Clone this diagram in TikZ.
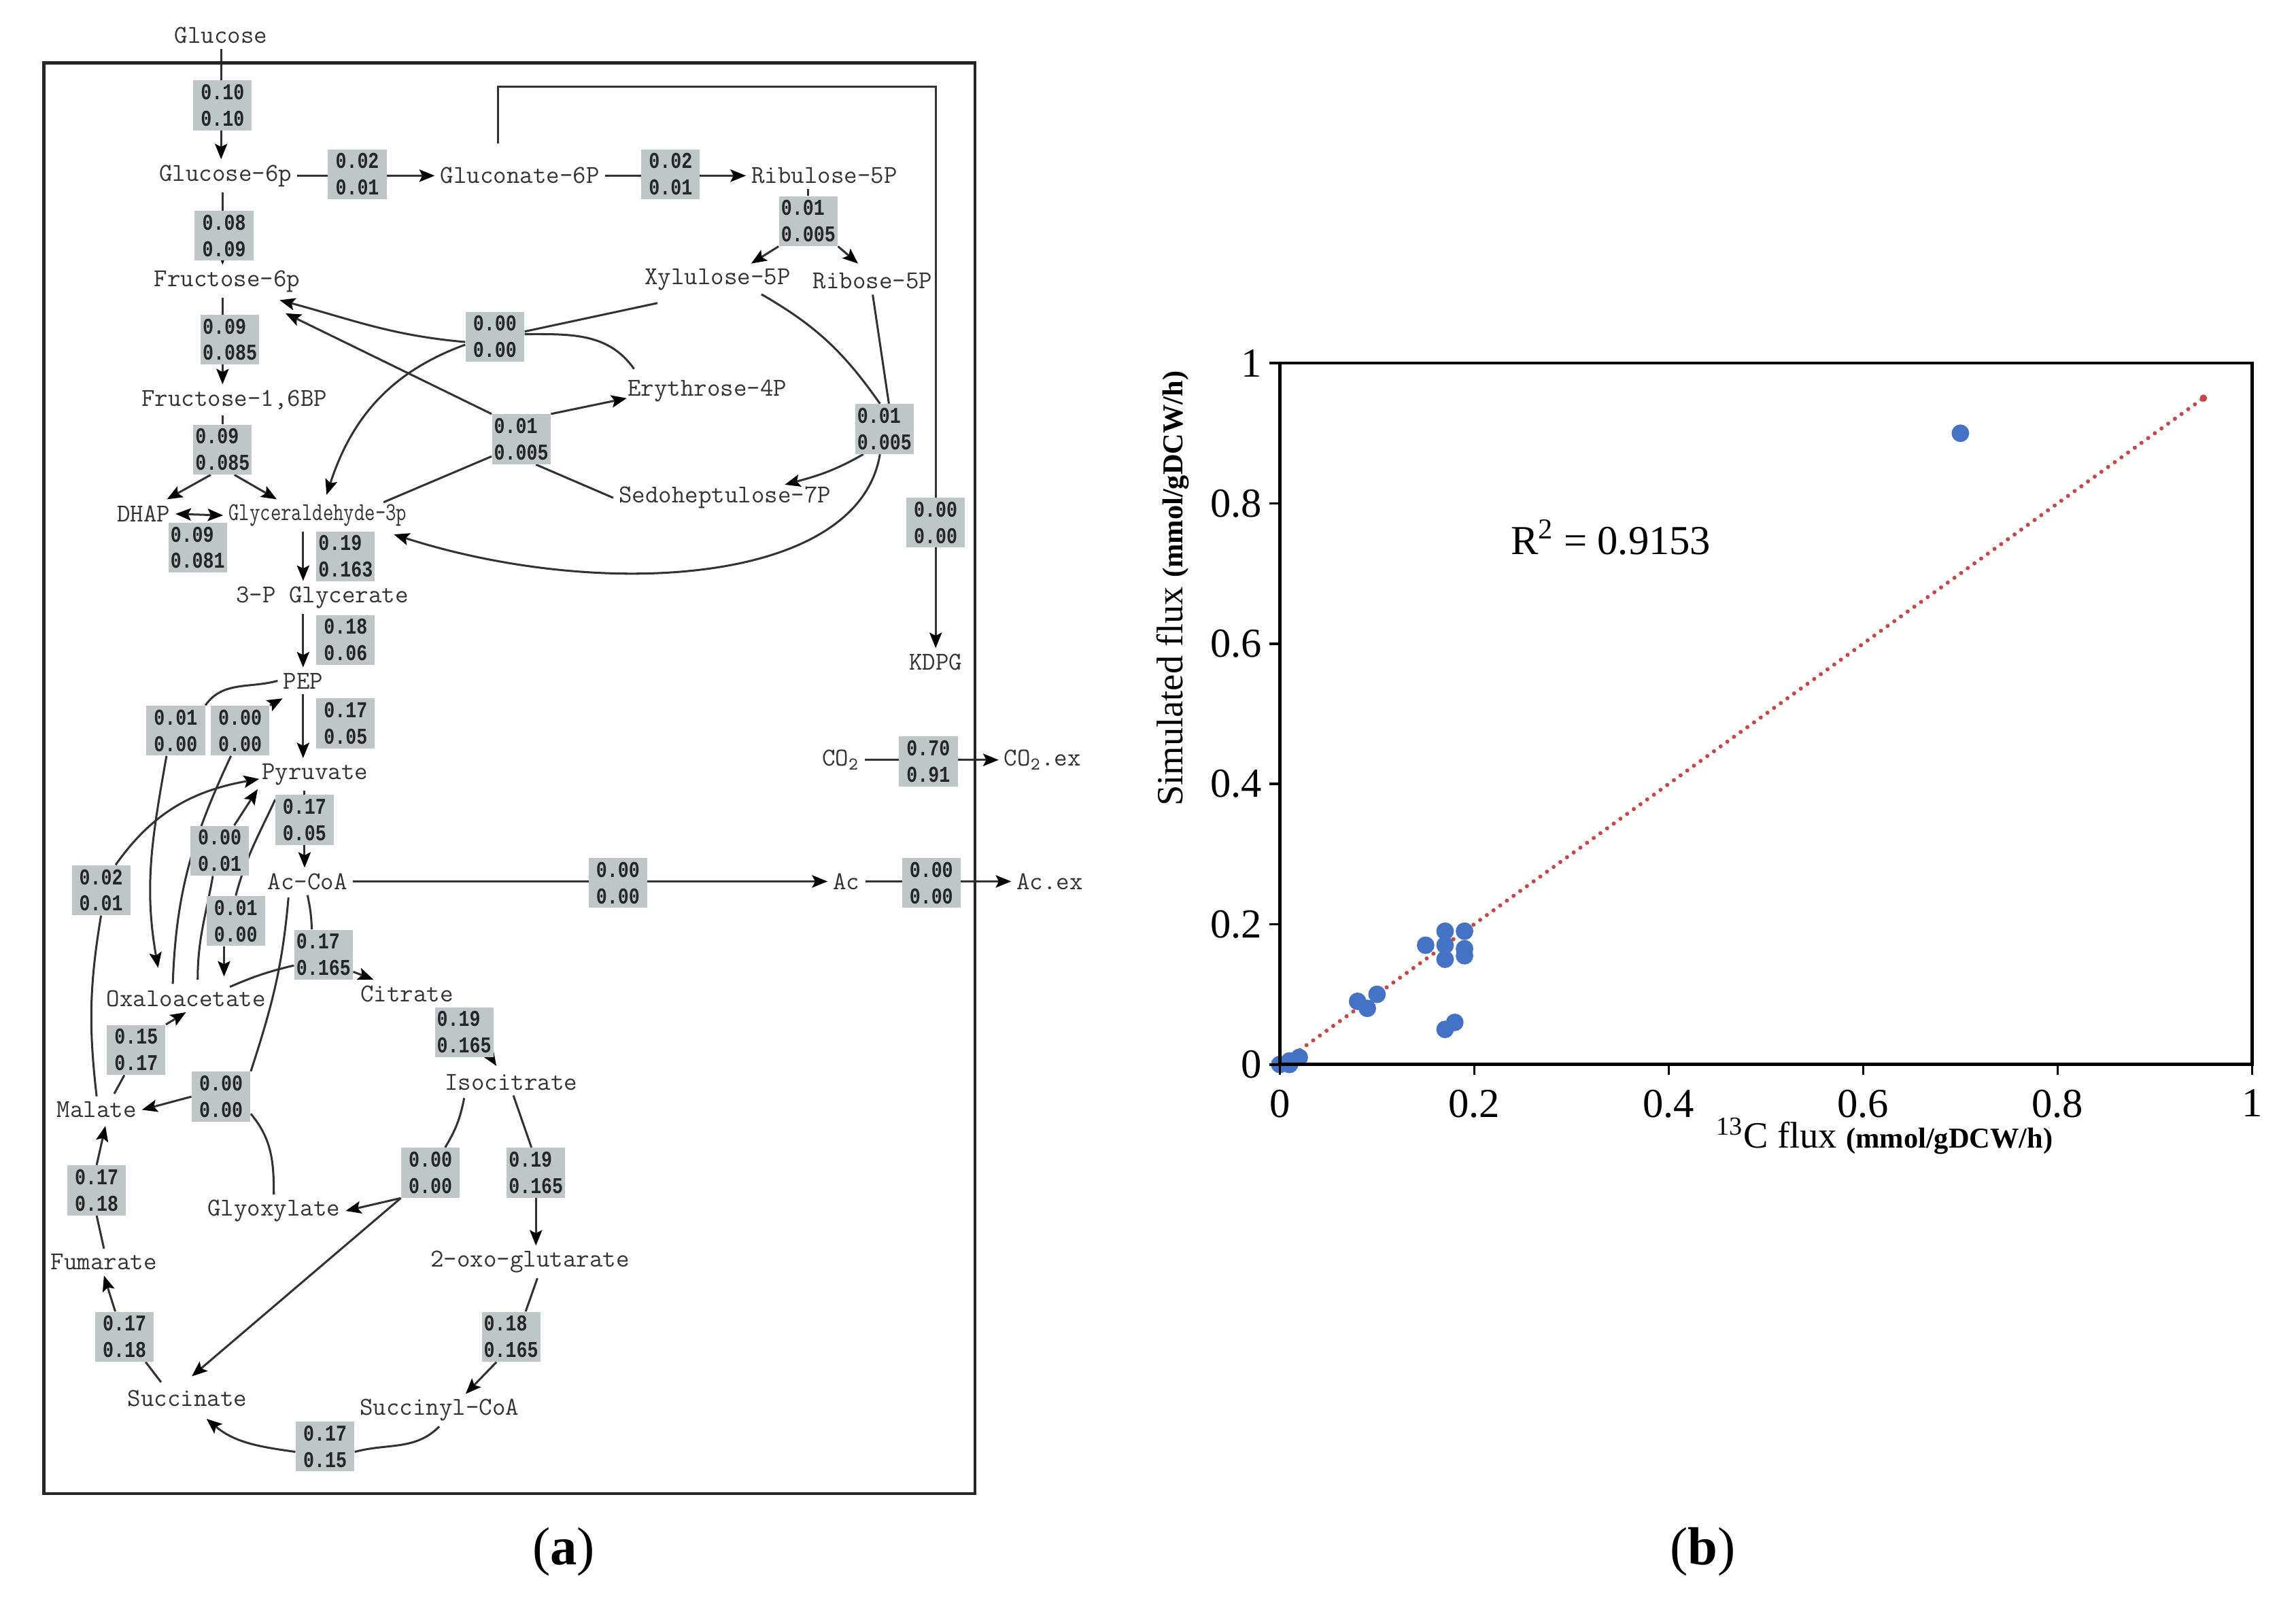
\documentclass[tikz,border=0pt]{standalone}
\usepackage{fontspec}
\usepackage{graphicx}
\setmainfont{Liberation Serif}
\newfontfamily\ratefont[FakeStretch=0.8]{Liberation Mono}
\usetikzlibrary{arrows.meta}

\pgfdeclarelayer{back}
\pgfsetlayers{back,main}

\definecolor{boxgray}{RGB}{190,198,200}
\definecolor{linegray}{RGB}{50,50,50}
\definecolor{dotblue}{RGB}{68,114,196}
\definecolor{fitred}{RGB}{200,70,70}

\begin{document}
\begin{tikzpicture}[x=0.025cm, y=0.025cm]
	\tikzset{
		met/.style={
			font=\ttfamily\fontsize{12.5}{15}\selectfont,
			text=black!80,
			inner sep=2.5pt
		},
		rate/.style={
			fill=boxgray,
			font=\ratefont\bfseries\fontsize{11}{12.8}\selectfont,
			text=black!85,
			align=left,
			minimum width=1cm,
			minimum height=0.85cm,
			inner sep=1pt
		},
		flow/.style={
			draw=linegray,
			line width=1pt,
			>={Stealth[length=7.5pt,width=6pt,inset=1.5pt,color=black]},
			every edge/.append style={->}
		},
		chart/.style={font=\fontsize{20}{24}\selectfont},
	}
	\useasboundingbox (0,0) rectangle (1568,1092);

	% (a) flux map
	\draw[line width=1.4pt, draw=black!85] (30,72) rectangle (666,1049);

	\node[met] (glc) at (151,1068) {Glucose};
	\node[met] (g6p) at (154,972) {Glucose-6p};
	\node[met] (gn6p) at (355,972) {Gluconate-6P};
	\node[met] (ru5p) at (563,972) {Ribulose-5P};
	\node[met] (xu5p) at (490,901) {Xylulose-5P};
	\node[met] (r5p) at (596,900) {Ribose-5P};
	\node[met] (f6p) at (155,900) {Fructose-6p};
	\node[met] (fbp) at (160,819) {Fructose-1,6BP};
	\node[met] (e4p) at (483,825) {Erythrose-4P};
	\node[met] (s7p) at (495,752) {Sedoheptulose-7P};
	\node[met] (dhap) at (98,741) {DHAP};
	\node[met] (g3p) at (217,740) {\scalebox{0.79}[1]{Glyceraldehyde-3p}};
	\node[met] (pg3) at (220,684) {3-P Glycerate};
	\node[met] (pep) at (207,627) {PEP};
	\node[met] (pyr) at (215,563) {Pyruvate};
	\node[met] (accoa) at (210,490) {Ac-CoA};
	\node[met] (ac) at (578,490) {Ac};
	\node[met] (acex) at (717,490) {Ac.ex};
	\node[met] (co2) at (574,573) {CO\textsubscript{2}};
	\node[met] (co2ex) at (712,573) {CO\textsubscript{2}.ex};
	\node[met] (kdpg) at (639,640) {KDPG};
	\node[met] (oaa) at (127,410) {Oxaloacetate};
	\node[met] (cit) at (278,413) {Citrate};
	\node[met] (icit) at (349,353) {Isocitrate};
	\node[met] (mal) at (66,334) {Malate};
	\node[met] (glx) at (187,265) {Glyoxylate};
	\node[met] (fum) at (71,230) {Fumarate};
	\node[met] (akg) at (362,230) {2-oxo-glutarate};
	\node[met] (suc) at (128,137) {Succinate};
	\node[met] (succoa) at (300,129) {Succinyl-CoA};

	\node[rate] (vhk) at (152,1020) {0.10\\0.10};
	\node[rate] (vzwf) at (244,973) {0.02\\0.01};
	\node[rate] (vgnd) at (458,973) {0.02\\0.01};
	\node[rate] (vrpe) at (552,941) {0.01\\0.005};
	\node[rate] (vpgi) at (153,931) {0.08\\0.09};
	\node[rate] (vpfk) at (157,860) {0.09\\0.085};
	\node[rate] (vfba) at (152,785) {0.09\\0.085};
	\node[rate] (vtpi) at (135,718) {0.09\\0.081};
	\node[rate] (vgap) at (236,712) {0.19\\0.163};
	\node[rate] (veno) at (236,655) {0.18\\0.06};
	\node[rate] (vpyk) at (236,598) {0.17\\0.05};
	\node[rate] (vppc) at (120,593) {0.01\\0.00};
	\node[rate] (vpck) at (164,593) {0.00\\0.00};
	\node[rate] (vpdh) at (208,532) {0.17\\0.05};
	\node[rate] (voaapyr) at (150,511) {0.00\\0.01};
	\node[rate] (vpyc) at (161,463) {0.01\\0.00};
	\node[rate] (vmae) at (69,484) {0.02\\0.01};
	\node[rate] (vglt) at (221,440) {0.17\\0.165};
	\node[rate] (vacn) at (317,387) {0.19\\0.165};
	\node[rate] (vmdh) at (93,375) {0.15\\0.17};
	\node[rate] (vms) at (151,343) {0.00\\0.00};
	\node[rate] (vicl) at (294,291) {0.00\\0.00};
	\node[rate] (vicd) at (366,291) {0.19\\0.165};
	\node[rate] (vfum) at (66,279) {0.17\\0.18};
	\node[rate] (vsdh) at (85,179) {0.17\\0.18};
	\node[rate] (vkgd) at (349,179) {0.18\\0.165};
	\node[rate] (vsuc) at (222,104) {0.17\\0.15};
	\node[rate] (vtkt1) at (338,862) {0.00\\0.00};
	\node[rate] (vtal) at (356,792) {0.01\\0.005};
	\node[rate] (vtkt2) at (604,799) {0.01\\0.005};
	\node[rate] (vedd) at (639,735) {0.00\\0.00};
	\node[rate] (vco2) at (634,572) {0.70\\0.91};
	\node[rate] (vpta) at (422,489) {0.00\\0.00};
	\node[rate] (vack) at (636,489) {0.00\\0.00};

	\begin{pgfonlayer}{back}
	% glycolysis trunk
	\draw[flow]
	(glc.south) edge (glc.south |- g6p.north)
	(g6p.south -| vhk) edge (f6p.north -| vhk)
	(f6p.south -| vhk) edge (fbp.north -| vhk)
	(fbp.south -| vfba) edge[-] (vfba)
	(vfba.-115) edge ([shift={(16,10)}]dhap.center)
	(vfba.-65) edge ([shift={(-28,11)}]g3p.center)
	(dhap.east) edge[<->] (g3p.west)
	(g3p.south -| pep) edge (pg3.north -| pep)
	(pg3.south -| pep) edge (pep.north)
	(pep.south) edge (pyr.north -| pep)
	(pyr.south -| vpdh) edge (accoa.north -| vpdh)
	(accoa.east) edge (accoa.east -| ac.west)
	(ac.east) edge (acex.west)
	(co2.east) edge (co2.east -| co2ex.west);

	% pentose phosphate
	\draw[flow]
	(g6p.east) edge (g6p.east -| gn6p.west)
	(gn6p.east) edge (gn6p.east -| ru5p.west)
	(ru5p.south -| vrpe) edge[-] (vrpe)
	(vrpe.south west) edge ([shift={(23,11)}]xu5p.center)
	(vrpe.south east) edge ([shift={(-10,12)}]r5p.center)
	([shift={(-41,-16)}]xu5p.center) edge[-] (vtkt1.10)
	([shift={(-50,15)}]e4p.center) edge[-, out=125, in=0] (vtkt1.5)
	(vtkt1.-170) edge[out=175, in=-15] ([shift={(36,-13)}]f6p.center)
	(vtkt1.-165) edge[out=200, in=72] ([shift={(6,14)}]g3p.center)
	([shift={(45,9)}]g3p.center) edge[-] (vtal.-150)
	(vtal.north west) edge ([shift={(40,-22)}]f6p.center)
	(vtal.north east) edge ([shift={(-55,-5)}]e4p.center)
	(s7p.west) edge[-] (vtal.-60)
	([shift={(30,-10)}]xu5p.center) edge[-, out=-30, in=125] (vtkt2.100)
	(r5p.south) edge[-] (vtkt2.80)
	(vtkt2.-130) edge[out=-150, in=15] ([shift={(41,9)}]s7p.center);
	\draw[flow, ->] (vtkt2.-100) .. controls +(-15,-90) and +(140,-45) .. ([shift={(52,-13)}]g3p.center);
	\draw[flow, ->] ([shift={(-15,22)}]gn6p.center) -- ++(0,39) -| (kdpg.north);

	% anaplerotic, TCA and glyoxylate shunt
	\draw[flow]
	(pep.west) edge[-, out=195, in=55] (vppc.north east)
	(vppc.-110) edge[out=-100, in=100] ([shift={(-19,21)}]oaa.center)
	([shift={(-9,10)}]oaa.center) edge[-, out=88, in=-115] (vpck.-110)
	(vpck.north east) edge ([shift={(-14,-12)}]pep.center)
	(mal.north) edge[-, bend left=8] (vmae.south)
	(vmae.60) edge[out=55, in=190] ([shift={(-38,-3)}]pyr.center)
	([shift={(8,13)}]oaa.center) edge[-, out=90, in=-100] (voaapyr.-105)
	(voaapyr.60) edge ([shift={(-39,-10)}]pyr.center)
	([shift={(-27,-17)}]pyr.center) edge[-, out=-115, in=75] (vpyc.north)
	([shift={(-8,0)}]vpyc.south) edge ([shift={(26,15)}]oaa.center)
	(accoa.south) edge[-, bend left=5] (vglt.115)
	([shift={(30,8)}]oaa.center) edge[-, bend left=5] (vglt.-160)
	(vglt.-30) edge ([shift={(-23,10)}]cit.center)
	(cit.south east) edge ([shift={(-10,11)}]icit.center)
	(icit.-80) edge[-] (vicd.100)
	(vicd.south) edge (vicd.south |- akg.north)
	([shift={(-32,-11)}]icit.center) edge[-, bend left=10] (vicl.60)
	(vicl.south west) edge (glx.east)
	(vicl.south west) edge ([shift={(3,15)}]suc.center)
	([shift={(-13,-11)}]accoa.center) edge[-, out=-95, in=72] (vms.north east)
	(glx.north) edge[-, out=90, in=-50] (vms.-30)
	(vms.west) edge (mal.east)
	([shift={(12,11)}]mal.center) edge[-] (vmdh.-115)
	(vmdh.north east) edge (oaa.south)
	(fum.north) edge[-] (vfum.south)
	(vfum.north) edge ([shift={(6,-11)}]mal.center)
	([shift={(-18,11)}]suc.center) edge[-] (vsdh.-50)
	(vsdh.110) edge (fum.south)
	([shift={(5,-11)}]akg.center) edge[-] (vkgd.60)
	(vkgd.-120) edge ([shift={(18,11)}]succoa.center)
	(succoa.south) edge[-, out=-135, in=15] (vsuc.-10)
	(vsuc.-170) edge[out=172, in=-40] ([shift={(13,-14)}]suc.center);
	\end{pgfonlayer}

	% (b) scatter plot
	\draw[fitred, line width=2pt, line cap=round, dash pattern=on 0pt off 4pt]
		(874,365) -- ({874+664*0.95},{365+479*0.95});
	\fill[fitred] (874,365) circle[radius=2.5];
	\fill[fitred] ({874+664*0.95},{365+479*0.95}) circle[radius=2.5];
	\foreach \a/\b in {0/0, 0.01/0.005, 0.02/0.01, 0.01/0, 0.08/0.09, 0.09/0.08,
		0.1/0.1, 0.15/0.17, 0.17/0.19, 0.17/0.17, 0.17/0.15, 0.19/0.19, 0.19/0.165,
		0.19/0.155, 0.17/0.05, 0.18/0.06, 0.7/0.9}
		\fill[dotblue] ({874+664*\a},{365+479*\b}) circle[radius=6];
	\draw[line width=1.5pt] (874,365) rectangle (1538,844);
	\foreach \v [count=\i] in {0,0.2,0.4,0.6,0.8,1} {
		\draw[line width=1.2pt] ({874+664*\v},365) -- ++(0,-7);
		\draw[line width=1.2pt] (874,{365+479*\v}) -- ++(-7,0);
		\node[chart, anchor=north, inner sep=0] (xt\i) at ({874+664*\v},348) {\v};
		\node[chart, anchor=east, inner sep=0] (yt\i) at (862,{365+479*\v}) {\v};
	}
	\node[rotate=90] (ytitle) at (801,690)
		{\fontsize{18}{20}\selectfont Simulated flux \fontsize{14}{16}\selectfont\bfseries(mmol/gDCW/h)};
	\node (xtitle) at (1287,316)
		{\fontsize{18}{20}\selectfont\textsuperscript{13}C flux \fontsize{14}{16}\selectfont\bfseries(mmol/gDCW/h)};
	\node[chart] (rsq) at (1100,725) {R\textsuperscript{2} = 0.9153};

	\node (capa) at (385,32) {\fontsize{26}{30}\selectfont(\textbf{a})};
	\node (capb) at (1163,32) {\fontsize{26}{30}\selectfont(\textbf{b})};
\end{tikzpicture}
\end{document}
